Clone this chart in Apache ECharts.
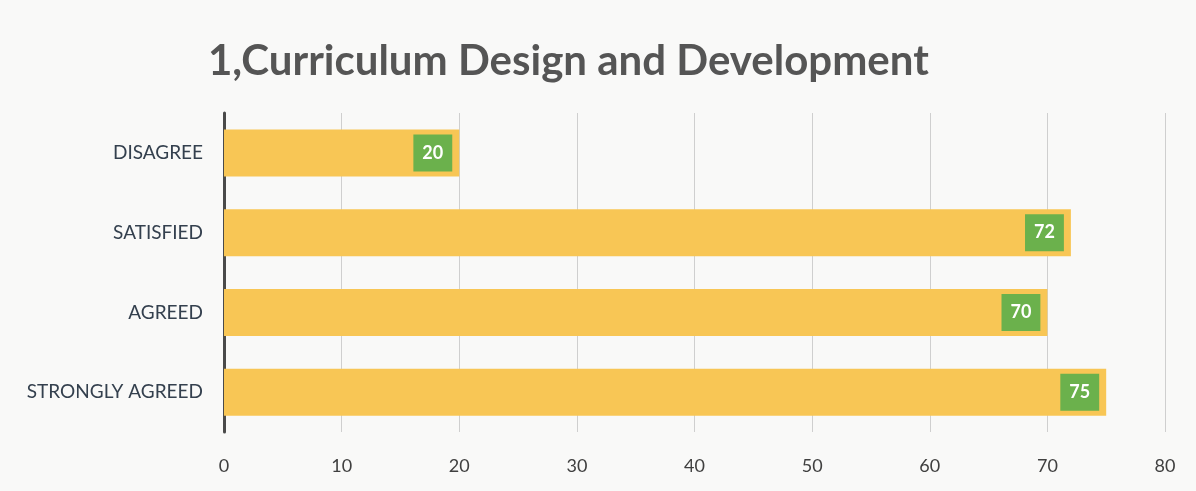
<!DOCTYPE html>
<html>
<head>
<meta charset="utf-8">
<script src="https://cdn.jsdelivr.net/npm/echarts@6/dist/echarts.min.js"></script>
<style>
  html, body { margin: 0; padding: 0; background: #f9f9f8; }
  #chart { width: 1196px; height: 491px; }
</style>
</head>
<body>
<div id="chart"></div>
<script>
// Survey responses for curriculum design and development
const categories = ['DISAGREE', 'SATISFIED', 'AGREED', 'STRONGLY AGREED'];
const responses = [20, 72, 70, 75];
const titleText = '1,Curriculum Design and Development';

const chart = echarts.init(document.getElementById('chart'));
chart.setOption({
  backgroundColor: '#f9f9f8',
  animation: false,
  title: {
    text: titleText,
    left: 203,
    top: 35,
    textStyle: {
      fontFamily: 'Lato',
      fontWeight: 'bold',
      fontSize: 42,
      color: '#555555'
    }
  },
  grid: { left: 224, right: 31, top: 113, bottom: 59 },
  xAxis: {
    type: 'value',
    min: 0,
    max: 80,
    interval: 10,
    axisLine: { show: false },
    axisTick: { show: false },
    splitLine: { show: true, lineStyle: { color: '#cfcfcf', width: 1 } },
    axisLabel: {
      margin: 25,
      fontFamily: 'Lato',
      fontSize: 18,
      color: '#404040'
    }
  },
  yAxis: {
    type: 'category',
    data: categories,
    inverse: true,
    axisLine: { show: true, lineStyle: { color: '#4a4a4a', width: 3 } },
    axisTick: { show: false },
    axisLabel: {
      margin: 21,
      fontFamily: 'Lato',
      fontSize: 19,
      color: '#34404e'
    }
  },
  series: [{
    type: 'bar',
    data: responses,
    barWidth: 47,
    itemStyle: { color: '#f8c655' },
    label: {
      show: true,
      position: 'insideRight',
      distance: 7,
      backgroundColor: '#6bb14c',
      padding: [10, 9, 9, 9],
      color: '#ffffff',
      fontFamily: 'Lato',
      fontWeight: 'bold',
      fontSize: 18
    }
  }]
});
</script>
</body>
</html>
